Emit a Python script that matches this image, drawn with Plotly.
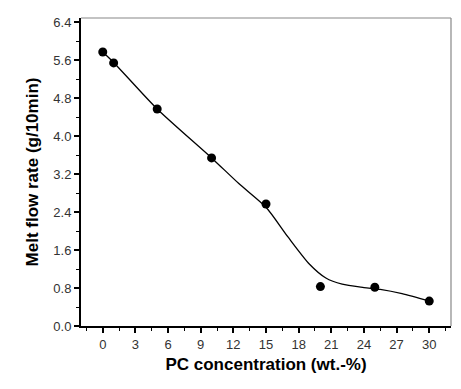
import plotly.graph_objects as go

# Measured data points
pc_conc = [0, 1, 5, 10, 15, 20, 25, 30]
mfr = [5.77, 5.54, 4.57, 3.54, 2.57, 0.83, 0.815, 0.525]

# Smooth fitted curve
fit_x = [0, 1, 5, 10, 12.5, 15, 17, 19, 20.5, 22, 24, 25.5, 27.5, 30]
fit_y = [5.77, 5.55, 4.57, 3.54, 3.00, 2.50, 1.88, 1.30, 1.01, 0.88, 0.81, 0.77, 0.68, 0.525]

x_ticks = [0, 3, 6, 9, 12, 15, 18, 21, 24, 27, 30]
y_ticks = [0.0, 0.8, 1.6, 2.4, 3.2, 4.0, 4.8, 5.6, 6.4]

fig = go.Figure()
fig.add_trace(go.Scatter(x=fit_x, y=fit_y, mode="lines",
                         line=dict(color="black", width=1.3, shape="spline", smoothing=0.7),
                         showlegend=False, hoverinfo="skip"))
fig.add_trace(go.Scatter(x=pc_conc, y=mfr, mode="markers",
                         marker=dict(color="black", size=9),
                         showlegend=False))

font_ticks = dict(family="Liberation Sans, Arial, sans-serif", size=13, color="#333")
font_title = dict(family="Liberation Sans, Arial, sans-serif", size=17, color="black")

# The page body has an 8px default margin, so the figure is sized to fit.
fig.update_layout(
    width=453, height=381,
    margin=dict(l=73, r=10, t=10, b=63),
    paper_bgcolor="white", plot_bgcolor="white",
    xaxis=dict(range=[-2, 32], tickvals=x_ticks, ticktext=[str(v) for v in x_ticks],
               ticks="outside", ticklen=5, tickwidth=1.5, tickcolor="black",
               minor=dict(dtick=1.5, tick0=0, ticks="outside", ticklen=3, tickwidth=1, tickcolor="black"),
               showline=True, linecolor="black", linewidth=2, showgrid=False, zeroline=False,
               tickfont=font_ticks, automargin=False,
               title=dict(text="<b>PC concentration (wt.-%)</b>", font=font_title, standoff=8)),
    yaxis=dict(range=[0, 6.486], tickvals=y_ticks, ticktext=[f"{v:.1f}" for v in y_ticks],
               ticks="outside", ticklen=5, tickwidth=1.5, tickcolor="black",
               minor=dict(dtick=0.4, tick0=0, ticks="outside", ticklen=3, tickwidth=1, tickcolor="black"),
               showline=True, linecolor="black", linewidth=2, showgrid=False, zeroline=False,
               tickfont=font_ticks, automargin=False,
               title=dict(text="<b>Melt flow rate (g/10min)</b>", font=font_title, standoff=10)),
)
# Top and right border (thin gray)
fig.add_shape(type="line", xref="paper", yref="paper", x0=0, x1=1, y0=1, y1=1,
              line=dict(color="#888", width=1.2))
fig.add_shape(type="line", xref="paper", yref="paper", x0=1, x1=1, y0=0, y1=1,
              line=dict(color="#888", width=1.2))

fig.write_html("out.html")
